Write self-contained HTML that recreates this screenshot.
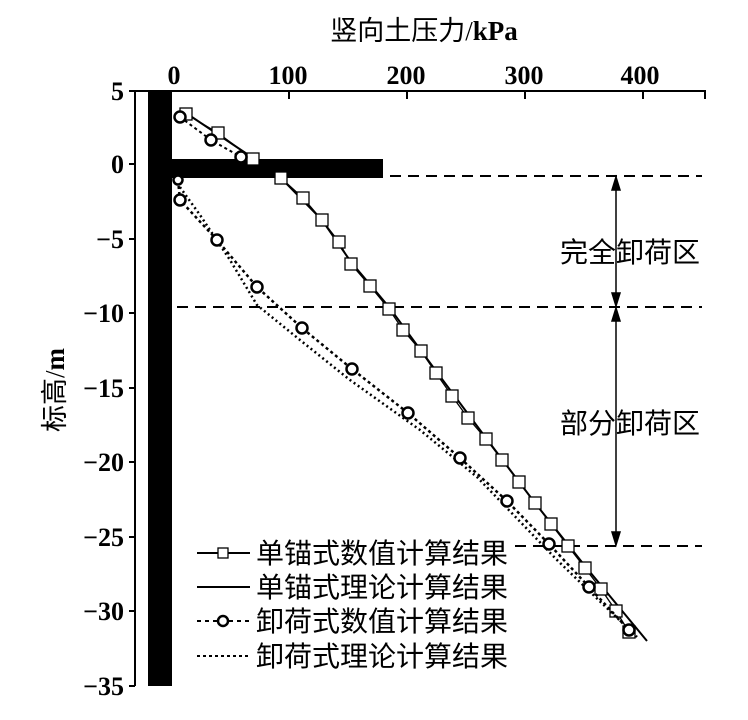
<!DOCTYPE html>
<html><head><meta charset="utf-8"><style>html,body{margin:0;padding:0;background:#fff}</style></head>
<body>
<svg width="748" height="715" viewBox="0 0 748 715" xmlns="http://www.w3.org/2000/svg" font-family="'Liberation Serif','Noto Serif CJK SC',serif">
<rect width="748" height="715" fill="#fff"/>
<text x="424" y="40" font-size="27" text-anchor="middle" font-family="'Liberation Serif','Noto Sans CJK SC',sans-serif">竖向土压力/<tspan font-weight="bold">kPa</tspan></text>
<g font-size="26" text-anchor="middle" font-weight="bold">
<text x="174" y="84">0</text><text x="288" y="84">100</text><text x="406" y="84">200</text><text x="524" y="84">300</text><text x="640" y="84">400</text>
</g>
<g font-size="26" text-anchor="end" font-weight="bold">
<text x="124" y="100">5</text><text x="124" y="173">0</text><text x="124" y="248">−5</text><text x="124" y="322">−10</text><text x="124" y="397">−15</text><text x="124" y="471">−20</text><text x="124" y="546">−25</text><text x="124" y="620">−30</text><text x="124" y="695">−35</text>
</g>
<text transform="translate(64,390) rotate(-90)" font-size="27" text-anchor="middle" font-family="'Liberation Serif','Noto Sans CJK SC',sans-serif">标高/<tspan font-weight="bold">m</tspan></text>
<g stroke="#000" stroke-width="2" fill="none">
<polyline points="135,686 135,91 705,91 705,99"/>
<line x1="289" y1="91" x2="289" y2="99"/><line x1="407" y1="91" x2="407" y2="99"/><line x1="525" y1="91" x2="525" y2="99"/><line x1="643" y1="91" x2="643" y2="99"/>
<line x1="129" y1="91" x2="135" y2="91"/><line x1="129" y1="164" x2="135" y2="164"/><line x1="129" y1="239" x2="135" y2="239"/><line x1="129" y1="313" x2="135" y2="313"/><line x1="129" y1="388" x2="135" y2="388"/><line x1="129" y1="462" x2="135" y2="462"/><line x1="129" y1="537" x2="135" y2="537"/><line x1="129" y1="611" x2="135" y2="611"/><line x1="129" y1="686" x2="135" y2="686"/>
</g>
<rect x="148" y="91" width="24" height="595" fill="#000"/>
<rect x="148" y="159" width="235" height="19" fill="#000"/>
<g stroke="#000" stroke-width="2" stroke-dasharray="11,7" fill="none">
<line x1="390" y1="176" x2="702" y2="176"/>
<line x1="177" y1="307" x2="702" y2="307"/>
<line x1="515" y1="546" x2="702" y2="546"/>
</g>
<g stroke="#000" stroke-width="1.5" fill="#000">
<line x1="616" y1="180" x2="616" y2="303"/><line x1="616" y1="311" x2="616" y2="542"/>
<polygon points="616,177 612,190 620,190"/><polygon points="616,306 612,293 620,293"/>
<polygon points="616,308 612,321 620,321"/><polygon points="616,545 612,532 620,532"/>
</g>
<g font-size="28" font-family="'Liberation Serif','Noto Sans CJK SC',sans-serif">
<text x="560" y="262">完全卸荷区</text>
<text x="560" y="433">部分卸荷区</text>
</g>
<polyline fill="none" stroke="#000" stroke-width="2" points="186,113 253,158 281,178 322,220 351,262 389,307 436,371 486,438 535,503 585,566 647,641"/>
<polyline fill="none" stroke="#000" stroke-width="1.3" points="186,114 218,133 253,159 281,178 303,198 322,220 339,242 351,264 370,286 389,309 403,330 421,351 436,373 452,396 468,418 486,439 502,460 519,482 535,503 551,524 568,546 585,568 601,589 616,611 629,632"/>
<g fill="#fff" stroke="#000" stroke-width="1.3">
<rect x="180" y="108" width="12" height="12"/><rect x="212" y="127" width="12" height="12"/><rect x="247" y="153" width="12" height="12"/><rect x="275" y="172" width="12" height="12"/><rect x="297" y="192" width="12" height="12"/><rect x="316" y="214" width="12" height="12"/><rect x="333" y="236" width="12" height="12"/><rect x="345" y="258" width="12" height="12"/><rect x="364" y="280" width="12" height="12"/><rect x="383" y="303" width="12" height="12"/><rect x="397" y="324" width="12" height="12"/><rect x="415" y="345" width="12" height="12"/><rect x="430" y="367" width="12" height="12"/><rect x="446" y="390" width="12" height="12"/><rect x="462" y="412" width="12" height="12"/><rect x="480" y="433" width="12" height="12"/><rect x="496" y="454" width="12" height="12"/><rect x="513" y="476" width="12" height="12"/><rect x="529" y="497" width="12" height="12"/><rect x="545" y="518" width="12" height="12"/><rect x="562" y="540" width="12" height="12"/><rect x="579" y="562" width="12" height="12"/><rect x="595" y="583" width="12" height="12"/><rect x="610" y="605" width="12" height="12"/><rect x="623" y="626" width="12" height="12"/>
</g>
<polyline fill="none" stroke="#000" stroke-width="2.5" stroke-dasharray="2,3" points="177,183 200,215 230,260 257,305 300,340 350,380 420,430 477,477 557,560 637,637"/>
<polyline fill="none" stroke="#000" stroke-width="2" stroke-dasharray="3,3" points="180,117 211,140 241,157"/>
<polyline fill="none" stroke="#000" stroke-width="2.5" stroke-dasharray="3,3" points="178,180 180,200 217,240 257,287 302,328 352,369 408,413 460,458 507,501 549,544 589,587 629,630"/>
<g fill="#fff" stroke="#000" stroke-width="2.5">
<circle cx="180" cy="117" r="5.5"/><circle cx="211" cy="140" r="5.5"/><circle cx="241" cy="157" r="5.5"/><circle cx="178" cy="180" r="4.5"/><circle cx="180" cy="200" r="5.5"/><circle cx="217" cy="240" r="5.5"/><circle cx="257" cy="287" r="5.5"/><circle cx="302" cy="328" r="5.5"/><circle cx="352" cy="369" r="5.5"/><circle cx="408" cy="413" r="5.5"/><circle cx="460" cy="458" r="5.5"/><circle cx="507" cy="501" r="5.5"/><circle cx="549" cy="544" r="5.5"/><circle cx="589" cy="587" r="5.5"/><circle cx="629" cy="630" r="5.5"/>
</g>
<g stroke="#000" stroke-width="2" fill="none">
<line x1="197" y1="553" x2="250" y2="553"/>
<rect x="218" y="548" width="10" height="10" fill="#fff" stroke-width="1.3"/>
<line x1="197" y1="587" x2="250" y2="587"/>
<line x1="197" y1="621" x2="250" y2="621" stroke-dasharray="4,4"/>
<circle cx="223" cy="621" r="5" fill="#fff" stroke-width="2.5"/>
<line x1="197" y1="656" x2="250" y2="656" stroke-dasharray="3,3"/>
</g>
<g font-size="28" font-family="'Liberation Serif','Noto Sans CJK SC',sans-serif">
<text x="256" y="563">单锚式数值计算结果</text>
<text x="256" y="597">单锚式理论计算结果</text>
<text x="256" y="631">卸荷式数值计算结果</text>
<text x="256" y="666">卸荷式理论计算结果</text>
</g>
</svg>
</body></html>
